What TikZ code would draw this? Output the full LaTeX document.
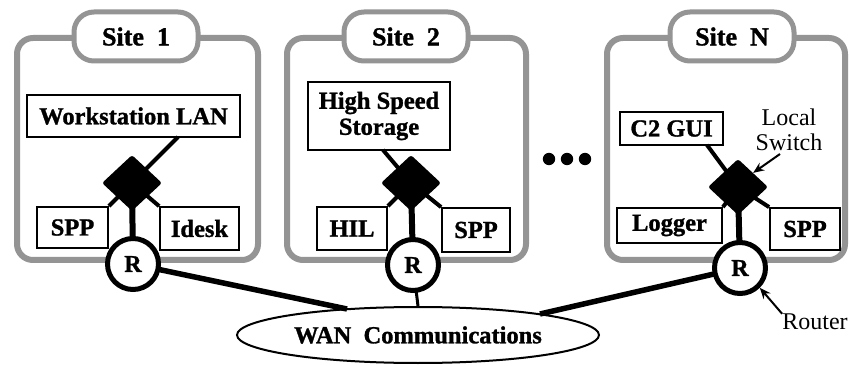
\documentclass[tikz,border=0pt]{standalone}
\usepackage{fontspec}
\setmainfont{Liberation Serif}[BoldFeatures={FakeBold=1.2}]
\usetikzlibrary{shapes.geometric,arrows.meta}
\tikzset{
  sitebox/.style={draw=black!42, line width=6pt, rounded corners=16pt},
  sitetab/.style={draw=black!42, fill=white, line width=5pt, rounded corners=20pt,
    minimum width=124pt, minimum height=49pt, inner sep=0pt,
    font=\fontsize{26}{28}\selectfont\bfseries},
  compbox/.style={draw=black, fill=white, line width=1.8pt, inner sep=0pt,
    align=center, font=\fontsize{24.5}{26}\selectfont\bfseries},
  switchnode/.style={diamond, fill=black, inner sep=0pt, minimum width=60pt,
    minimum height=56pt, rounded corners=2.5pt},
  router/.style={circle, draw=black, fill=white, line width=5pt, inner sep=0pt,
    minimum size=51pt, font=\fontsize{24}{25}\selectfont\bfseries},
  link/.style={line width=4pt},
  trunk/.style={line width=6pt},
  wanlink/.style={line width=5.5pt},
  callout/.style={line width=2pt, -{Stealth[length=11pt,width=9pt]}},
  plain/.style={align=center, inner sep=0pt, font=\fontsize{24}{25}\selectfont},
}
\begin{document}
\begin{tikzpicture}[x=1pt,y=-1pt]
\useasboundingbox (0,0) rectangle (849,366);
\fill[white] (0,0) rectangle (849,366);
% site boxes
\draw[sitebox] (17,38) rectangle (258,260);
\draw[sitebox] (287,38) rectangle (526,260);
\draw[sitebox] (607,38) rectangle (845,260);
\node[sitetab] (t1) at (136,36.5) {Site\ \ 1};
\node[sitetab] (t2) at (406,36.5) {Site\ \ 2};
\node[sitetab] (tN) at (732,36.5) {Site\ \ N};
% WAN
\node[ellipse, draw=black, line width=2pt, fill=white, minimum width=362pt,
  minimum height=56pt, inner sep=0pt, font=\fontsize{24.5}{26}\selectfont\bfseries]
  (wan) at (418,335) {WAN\ \ Communications};
\coordinate (e1) at (347,309);
\coordinate (eN) at (540,314);
% components
\node[compbox, minimum width=213pt, minimum height=42pt] (ws) at (133.5,116) {Workstation LAN};
\node[compbox, minimum width=71pt, minimum height=41pt] (spp1) at (72.5,227.5) {SPP};
\node[compbox, minimum width=79pt, minimum height=43pt] (idesk) at (199.5,228.5) {Idesk};
\node[compbox, minimum width=142pt, minimum height=68pt] (hss) at (379,116) {High Speed\\Storage};
\node[compbox, minimum width=70pt, minimum height=43pt] (hil) at (352,228.5) {HIL};
\node[compbox, minimum width=68pt, minimum height=44pt] (spp2) at (476,230) {SPP};
\node[compbox, minimum width=103pt, minimum height=33pt] (c2) at (671.5,128.5) {C2 GUI};
\node[compbox, minimum width=105pt, minimum height=35pt] (logger) at (669.5,225.5) {Logger};
\node[compbox, minimum width=70pt, minimum height=42pt] (sppN) at (805,229) {SPP};
% switch and router centres
\coordinate (c1) at (132,183);
\coordinate (c2c) at (411,183);
\coordinate (cN) at (738,187);
\coordinate (rc1) at (133,264);
\coordinate (rc2) at (413,265);
\coordinate (rcN) at (740,268);
\coordinate (ws1) at (178,137);
\coordinate (hs1) at (383,150);
\coordinate (cg1) at (707,145);
% links behind switches and routers
\draw[link] (c1) -- (ws1);
\draw[link] (c1) -- (spp1.north east);
\draw[link] (c1) -- (idesk.north west);
\draw[link] (c2c) -- (hs1);
\draw[link] (c2c) -- (hil.north east);
\draw[link] (c2c) -- (spp2.north west);
\draw[link] (cN) -- (cg1);
\draw[link] (cN) -- (logger.north east);
\draw[link] (cN) -- (sppN.north west);
\draw[trunk] (c1) -- (rc1);
\draw[trunk] (c2c) -- (rc2);
\draw[trunk] (cN) -- (rcN);
\draw[wanlink] (rc1) -- (e1);
\draw[line width=3pt] (rc2) -- (wan.north);
\draw[wanlink] (rcN) -- (eN);
\node[switchnode] (s1) at (c1) {};
\node[switchnode] (s2) at (c2c) {};
\node[switchnode] (sN) at (cN) {};
\node[router] (r1) at (rc1) {R};
\node[router] (r2) at (rc2) {R};
\node[router] (rN) at (rcN) {R};
% dots
\fill (549,159) circle (6.2);
\fill (567,159) circle (6.2);
\fill (585,159) circle (6.2);
% labels
\node[plain] (ls) at (789,130) {Local\\Switch};
\node[plain] (rt) at (815,322) {Router};
\draw[callout] (780,154) -- (sN.north east);
\draw[callout] (rt.north west) -- (rN.south east);
\end{tikzpicture}
\end{document}
